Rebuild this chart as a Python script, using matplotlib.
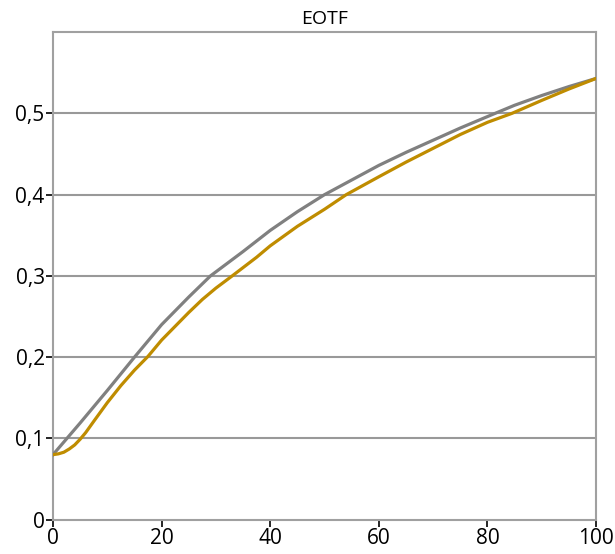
import matplotlib.pyplot as plt
from matplotlib.ticker import FuncFormatter

plt.rcParams['font.family'] = ['Open Sans', 'DejaVu Sans']

# grey curve
x_grey = [0, 5, 10, 15, 20, 25, 29, 35, 40, 45, 50, 55, 60, 65, 70, 75, 81.4, 85, 90, 95, 100]
y_grey = [0.080, 0.119, 0.159, 0.200, 0.240, 0.274, 0.300, 0.330, 0.356, 0.379, 0.400, 0.418, 0.436,
          0.452, 0.467, 0.482, 0.500, 0.510, 0.522, 0.533, 0.543]

# gold curve
x_gold = [0, 1, 2, 3, 4, 5, 6, 7.5, 10, 12.5, 15, 17.5, 20, 22.5, 25, 27.5, 30, 33, 37.5, 40, 45, 50,
          54, 60, 65, 70, 75, 80, 84.5, 90, 95, 100]
y_gold = [0.080, 0.081, 0.083, 0.087, 0.092, 0.099, 0.107, 0.121, 0.144, 0.165, 0.184, 0.201, 0.221,
          0.238, 0.255, 0.271, 0.285, 0.300, 0.323, 0.337, 0.361, 0.382, 0.400, 0.422, 0.440, 0.457,
          0.474, 0.489, 0.500, 0.516, 0.530, 0.543]

x_ticks = [0, 20, 40, 60, 80, 100]
y_ticks = [0, 0.1, 0.2, 0.3, 0.4, 0.5]

fig = plt.figure(figsize=(6.15, 5.54), dpi=100)
ax = fig.add_axes([0.0862, 0.062, 0.883, 0.880])

for y in y_ticks[1:]:
    ax.axhline(y, color='#999999', lw=1.5, zorder=1)

ax.plot(x_grey, y_grey, color='#808080', lw=2.3, zorder=3)
ax.plot(x_gold, y_gold, color='#bf8c00', lw=2.3, zorder=4)

ax.set_xlim(0, 100)
ax.set_ylim(0, 0.6)
ax.set_xticks(x_ticks)
ax.set_yticks(y_ticks)
ax.yaxis.set_major_formatter(FuncFormatter(lambda v, p: '0' if v == 0 else ('%.1f' % v).replace('.', ',')))
ax.tick_params(direction='out', length=5, width=1.2, color='black', labelsize=15, pad=1)

for s in ax.spines.values():
    s.set_color('#a0a0a0')
    s.set_linewidth(1.5)

ax.set_title('EOTF', fontsize=14, pad=6)

fig.savefig('out.png', dpi=100)
